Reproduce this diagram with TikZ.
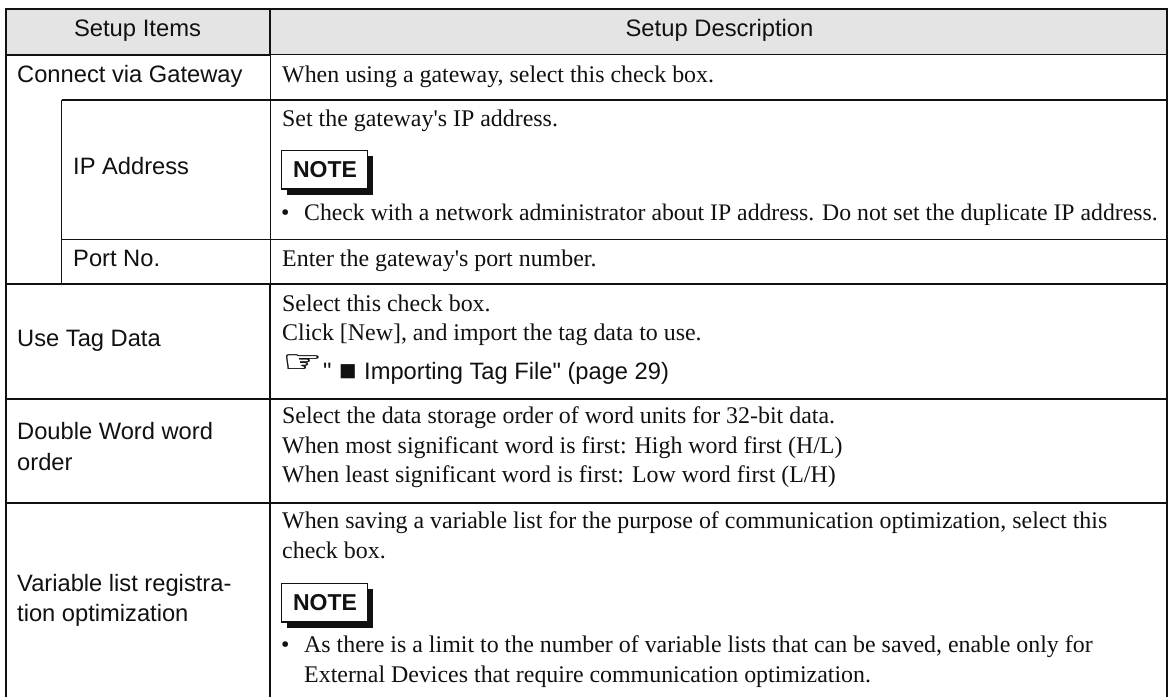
\documentclass[tikz,border=0pt]{standalone}
\usepackage{fontspec}
\newfontfamily\serf{Liberation Serif}
\newfontfamily\arialf{Liberation Sans}
\newfontfamily\symf{DejaVu Sans}
\newfontfamily\handf{DejaVu Sans}[FakeBold=0.6]
\definecolor{headgray}{HTML}{E4E4E4}
\definecolor{ink}{HTML}{111111}
\tikzset{
  thickrule/.style={line width=2pt,draw=ink},
  thinrule/.style={line width=1.3pt,draw=ink},
  item/.style={anchor=base west,inner sep=0pt,font=\fontsize{23.7}{28}\arialf,text=ink},
  headtxt/.style={anchor=base,inner sep=0pt,font=\fontsize{23.8}{28}\arialf,text=ink},
  desc/.style={anchor=base west,inner sep=0pt,font=\fontsize{23.9}{28}\serf,text=ink},
  notetxt/.style={anchor=base,inner sep=0pt,font=\fontsize{23}{28}\arialf\bfseries,text=ink},
  notebox/.style={draw=ink,line width=1.6pt,fill=white},
  noteshadow/.style={fill=ink,draw=none}
}
\begin{document}
\begin{tikzpicture}[x=1pt,y=-1pt]
\useasboundingbox (0,0) rectangle (1170,697);
\fill[white] (0,0) rectangle (1170,697);
\fill[headgray] (6,9) rectangle (1167,54.5);
% thin rules
\draw[thinrule] (270,54.5) -- (1167,54.5);
\draw[thinrule] (61.5,100) -- (1167,100);
\draw[thinrule] (61.5,239.5) -- (1167,239.5);
\draw[thinrule] (270,284) -- (1167,284);
\draw[thinrule] (61.5,100) -- (61.5,284);
\draw[thinrule] (270.5,54.5) -- (270.5,284);
% thick rules
\draw[thickrule] (6,9) -- (1167,9);
\draw[thickrule] (6,54.5) -- (270,54.5);
\draw[thickrule] (6,284) -- (270,284);
\draw[thickrule] (6,398.5) -- (1167,398.5);
\draw[thickrule] (6,503) -- (1167,503);
\draw[thickrule] (6,8) -- (6,697);
\draw[thickrule] (1167,8) -- (1167,697);
\draw[thickrule] (270,8) -- (270,54.5);
\draw[thickrule] (270,284) -- (270,697);
% header
\node[headtxt] (h1) at (137.5,36.5) {Setup Items};
\node[headtxt] (h2) at (719.5,36.5) {Setup Description};
% left column
\node[item] (i1) at (17,82) {Connect via Gateway};
\node[item] (i2) at (73,174) {IP Address};
\node[item] (i3) at (73,266) {Port No.};
\node[item] (i4) at (17,346) {Use Tag Data};
\node[item] (i5) at (17,439) {Double Word word};
\node[item] (i5b) at (17,470) {order};
\node[item] (i6) at (17,591) {Variable list registra-};
\node[item] (i6b) at (17,621) {tion optimization};
% right column
\node[desc] (d1) at (282,82) {When using a gateway, select this check box.};
\node[desc] (d2) at (282,126) {Set the gateway's IP address.};
\fill[noteshadow] (287,156) rectangle (373,195);
\draw[notebox] (281.5,150.5) rectangle (367.5,189);
\node[notetxt] (n1) at (325,177) {NOTE};
\node[desc] (b1) at (281,220) {•};
\node[desc,font=\fontsize{23.73}{28}\serf] (d3) at (304,220) {Check with a network administrator about IP address. Do not set the duplicate IP address.};
\node[desc] (d4) at (282,266) {Enter the gateway's port number.};
\node[desc] (d5) at (282,311) {Select this check box.};
\node[desc] (d6) at (282,340) {Click [New], and import the tag data to use.};
\node[anchor=base west,inner sep=0pt,font=\fontsize{27}{28}\handf,text=ink,transform shape,xscale=1.65,yscale=1.15] (hand) at (282,372) {☞};
\node[item] (q) at (323,379.5) {"};
\node[anchor=base west,inner sep=0pt,font=\fontsize{18.5}{28}\symf,text=ink] (sq) at (339,376.5) {■};
\node[item] (d7) at (364,379.5) {Importing Tag File" (page 29)};
\node[desc] (d8) at (282,423) {Select the data storage order of word units for 32-bit data.};
\node[desc] (d9) at (282,453) {When most significant word is first: High word first (H/L)};
\node[desc] (d10) at (282,482) {When least significant word is first: Low word first (L/H)};
\node[desc] (d11) at (282,528) {When saving a variable list for the purpose of communication optimization, select this};
\node[desc] (d12) at (282,558) {check box.};
\fill[noteshadow] (287,589) rectangle (373,628);
\draw[notebox] (281.5,583.5) rectangle (367.5,622);
\node[notetxt] (n2) at (325,610) {NOTE};
\node[desc] (b2) at (281,652) {•};
\node[desc] (d13) at (304,652) {As there is a limit to the number of variable lists that can be saved, enable only for};
\node[desc] (d14) at (304,682) {External Devices that require communication optimization.};
\end{tikzpicture}
\end{document}
